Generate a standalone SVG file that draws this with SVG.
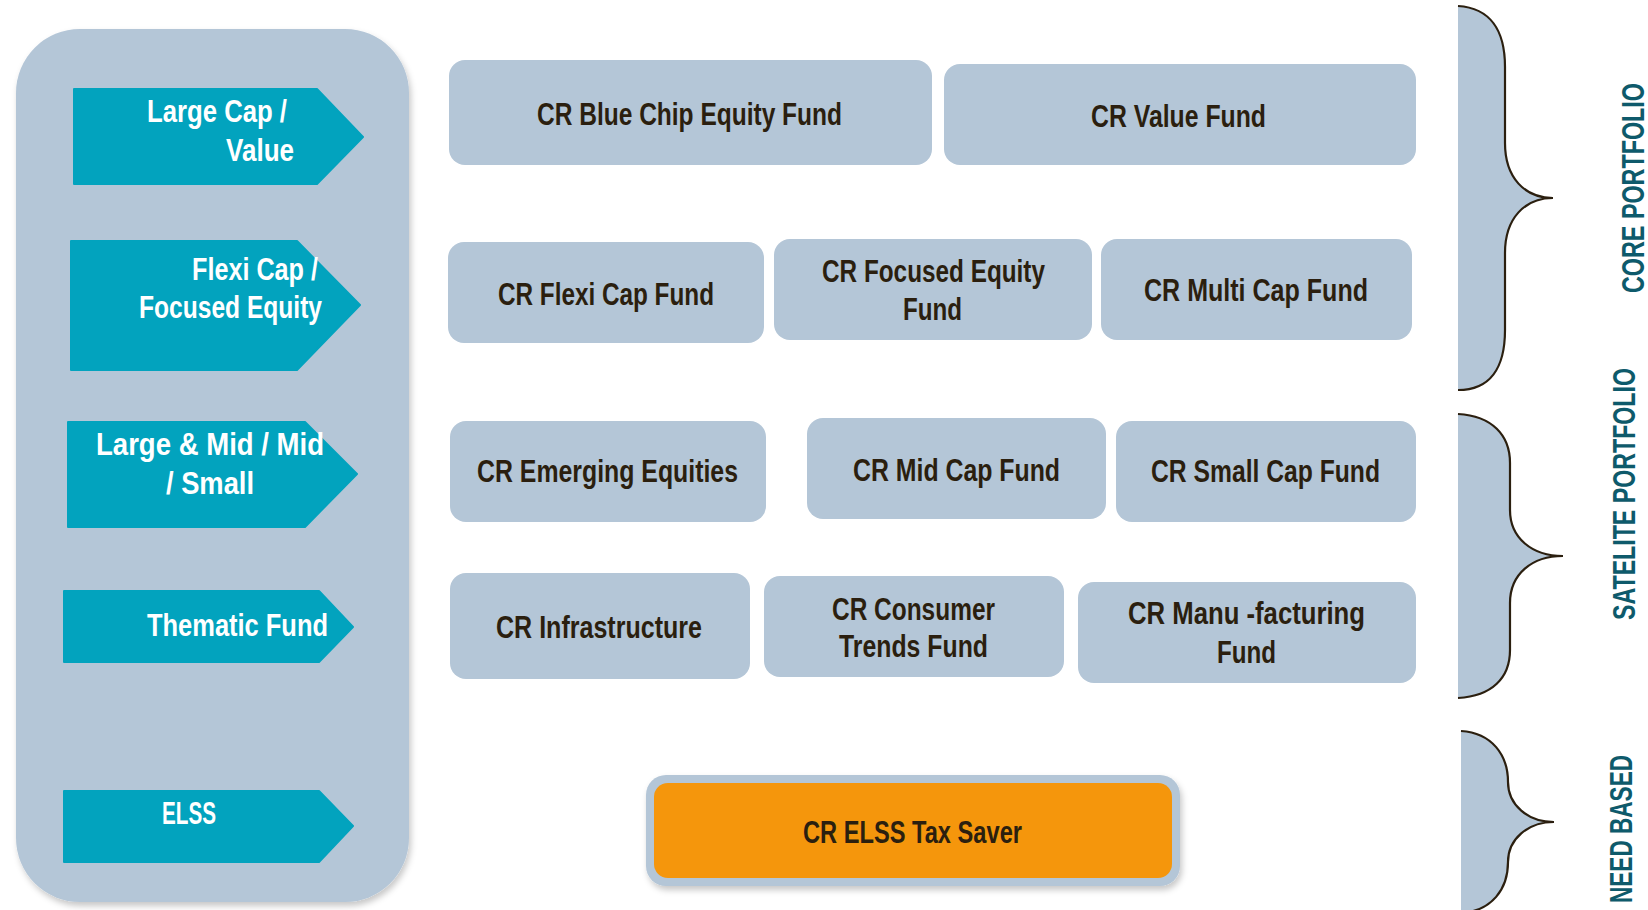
<svg xmlns="http://www.w3.org/2000/svg" width="1648" height="910" viewBox="0 0 1648 910">
  <defs>
    <filter id="shadow" x="-10%" y="-10%" width="125%" height="125%">
      <feDropShadow dx="2" dy="4" stdDeviation="3" flood-color="#000" flood-opacity="0.22"/>
    </filter>
    <style>
      .panel { fill: #B4C6D7; }
      .box { fill: #B4C6D7; }
      .arrow { fill: #02A3BE; stroke: #02A3BE; stroke-width: 2; stroke-linejoin: round; }
      .t { font-family: "Liberation Sans Narrow", "Liberation Sans", Arial, sans-serif; font-weight: bold; font-size: 31px; }
      .dark { fill: #2B1F0F; }
      .white { fill: #FFFFFF; }
      .lbl { fill: #0E5A6B; }
      .bfill { fill: #B4C6D7; stroke: none; }
      .bline { fill: none; stroke: #2B1F0F; stroke-width: 2.2; }
    </style>
  </defs>
  <rect width="1648" height="910" fill="#FFFFFF"/>

  <g id="category-panel">
    <rect class="panel" x="16" y="29" width="393" height="873" rx="64" filter="url(#shadow)"/>
  </g>

  <g id="cat-large-cap">
    <path class="arrow" d="M74,89 H317 L363,137 L317,184 H74 Z"/>
    <text class="t white" x="147" y="122" textLength="140" lengthAdjust="spacingAndGlyphs">Large Cap /</text>
    <text class="t white" x="226" y="161" textLength="68" lengthAdjust="spacingAndGlyphs">Value</text>
  </g>
  <g id="cat-flexi-cap">
    <path class="arrow" d="M71,241 H297 L360,305 L297,370 H71 Z"/>
    <text class="t white" x="192" y="280" textLength="126" lengthAdjust="spacingAndGlyphs">Flexi Cap /</text>
    <text class="t white" x="139" y="318" textLength="183" lengthAdjust="spacingAndGlyphs">Focused Equity</text>
  </g>
  <g id="cat-large-mid">
    <path class="arrow" d="M68,422 H305 L357,474 L305,527 H68 Z"/>
    <text class="t white" x="96" y="455" textLength="228" lengthAdjust="spacingAndGlyphs">Large &amp; Mid / Mid</text>
    <text class="t white" x="166" y="494" textLength="88" lengthAdjust="spacingAndGlyphs">/ Small</text>
  </g>
  <g id="cat-thematic">
    <path class="arrow" d="M64,591 H319 L353,627 L319,662 H64 Z"/>
    <text class="t white" x="147" y="636" textLength="181" lengthAdjust="spacingAndGlyphs">Thematic Fund</text>
  </g>
  <g id="cat-elss">
    <path class="arrow" d="M64,791 H319 L353,826 L319,862 H64 Z"/>
    <text class="t white" x="162" y="824" textLength="54" lengthAdjust="spacingAndGlyphs">ELSS</text>
  </g>

  <g id="fund-blue-chip">
    <rect class="box" x="449" y="60" width="483" height="105" rx="16"/>
    <text class="t dark" x="537" y="125" textLength="305" lengthAdjust="spacingAndGlyphs">CR Blue Chip Equity Fund</text>
  </g>
  <g id="fund-value">
    <rect class="box" x="944" y="64" width="472" height="101" rx="16"/>
    <text class="t dark" x="1091" y="127" textLength="175" lengthAdjust="spacingAndGlyphs">CR Value Fund</text>
  </g>
  <g id="fund-flexi-cap">
    <rect class="box" x="448" y="242" width="316" height="101" rx="16"/>
    <text class="t dark" x="498" y="305" textLength="216" lengthAdjust="spacingAndGlyphs">CR Flexi Cap Fund</text>
  </g>
  <g id="fund-focused-equity">
    <rect class="box" x="774" y="239" width="318" height="101" rx="16"/>
    <text class="t dark" x="822" y="282" textLength="223" lengthAdjust="spacingAndGlyphs">CR Focused Equity</text>
    <text class="t dark" x="903" y="320" textLength="59" lengthAdjust="spacingAndGlyphs">Fund</text>
  </g>
  <g id="fund-multi-cap">
    <rect class="box" x="1101" y="239" width="311" height="101" rx="16"/>
    <text class="t dark" x="1144" y="301" textLength="224" lengthAdjust="spacingAndGlyphs">CR Multi Cap Fund</text>
  </g>
  <g id="fund-emerging">
    <rect class="box" x="450" y="421" width="316" height="101" rx="16"/>
    <text class="t dark" x="477" y="482" textLength="261" lengthAdjust="spacingAndGlyphs">CR Emerging Equities</text>
  </g>
  <g id="fund-mid-cap">
    <rect class="box" x="807" y="418" width="299" height="101" rx="16"/>
    <text class="t dark" x="853" y="481" textLength="207" lengthAdjust="spacingAndGlyphs">CR Mid Cap Fund</text>
  </g>
  <g id="fund-small-cap">
    <rect class="box" x="1116" y="421" width="300" height="101" rx="16"/>
    <text class="t dark" x="1151" y="482" textLength="229" lengthAdjust="spacingAndGlyphs">CR Small Cap Fund</text>
  </g>
  <g id="fund-infrastructure">
    <rect class="box" x="450" y="573" width="300" height="106" rx="16"/>
    <text class="t dark" x="496" y="638" textLength="206" lengthAdjust="spacingAndGlyphs">CR Infrastructure</text>
  </g>
  <g id="fund-consumer">
    <rect class="box" x="764" y="576" width="300" height="101" rx="16"/>
    <text class="t dark" x="832" y="620" textLength="163" lengthAdjust="spacingAndGlyphs">CR Consumer</text>
    <text class="t dark" x="839" y="657" textLength="149" lengthAdjust="spacingAndGlyphs">Trends Fund</text>
  </g>
  <g id="fund-manufacturing">
    <rect class="box" x="1078" y="582" width="338" height="101" rx="16"/>
    <text class="t dark" x="1128" y="624" textLength="237" lengthAdjust="spacingAndGlyphs">CR Manu -facturing</text>
    <text class="t dark" x="1217" y="663" textLength="59" lengthAdjust="spacingAndGlyphs">Fund</text>
  </g>
  <g id="fund-elss">
    <rect x="646" y="775" width="534" height="111" rx="20" fill="#B4C6D7" filter="url(#shadow)"/>
    <rect x="654" y="783" width="518" height="95" rx="14" fill="#F5960C"/>
    <text class="t dark" x="803" y="843" textLength="219" lengthAdjust="spacingAndGlyphs">CR ELSS Tax Saver</text>
  </g>

  <g id="connectors">
    <g id="brace-core">
      <path class="bfill" d="M1458,6 C1490,8 1505,30 1505,67 L1505,143 C1505,178 1525,198 1553,198 C1525,198 1505,218 1505,253 L1505,330 C1505,368 1490,390 1458,390 Z"/>
      <path class="bline" d="M1458,6 C1490,8 1505,30 1505,67 L1505,143 C1505,178 1525,198 1553,198 C1525,198 1505,218 1505,253 L1505,330 C1505,368 1490,390 1458,390"/>
    </g>
    <g id="brace-satellite">
      <path class="bfill" d="M1458,414 C1492,416 1510,435 1510,463 L1510,510 C1510,538 1532,556 1563,556 C1532,556 1510,574 1510,603 L1510,650 C1510,678 1492,696 1458,698 Z"/>
      <path class="bline" d="M1458,414 C1492,416 1510,435 1510,463 L1510,510 C1510,538 1532,556 1563,556 C1532,556 1510,574 1510,603 L1510,650 C1510,678 1492,696 1458,698"/>
    </g>
    <g id="brace-need">
      <path class="bfill" d="M1461,731 C1492,733 1508,755 1508,782 C1508,805 1528,822 1554,822 C1528,822 1508,839 1508,862 C1508,889 1492,911 1461,913 Z"/>
      <path class="bline" d="M1461,731 C1492,733 1508,755 1508,782 C1508,805 1528,822 1554,822 C1528,822 1508,839 1508,862 C1508,889 1492,911 1461,913"/>
    </g>
  </g>

  <g id="label-core">
    <text class="t lbl" transform="translate(1644,293) rotate(-90)" x="0" y="0" textLength="210" lengthAdjust="spacingAndGlyphs">CORE PORTFOLIO</text>
  </g>
  <g id="label-satellite">
    <text class="t lbl" transform="translate(1635,620) rotate(-90)" x="0" y="0" textLength="252" lengthAdjust="spacingAndGlyphs">SATELITE PORTFOLIO</text>
  </g>
  <g id="label-need">
    <text class="t lbl" transform="translate(1632,903) rotate(-90)" x="0" y="0" textLength="148" lengthAdjust="spacingAndGlyphs">NEED BASED</text>
  </g>
</svg>
